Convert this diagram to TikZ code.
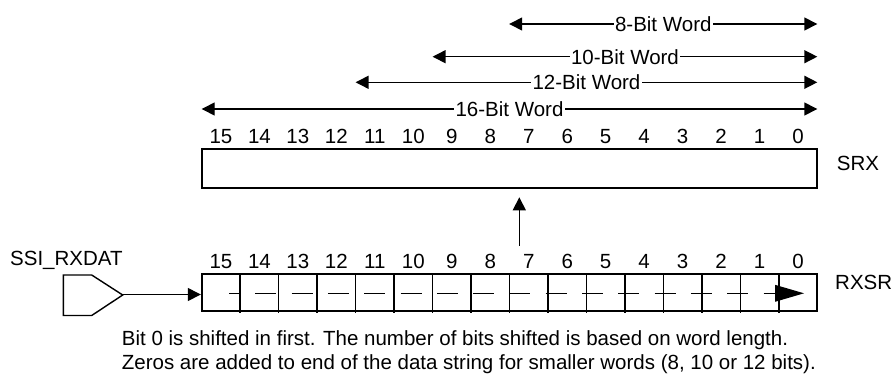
\documentclass[tikz,border=0pt]{standalone}
\usepackage{fontspec}
\setmainfont{Liberation Sans}
\usetikzlibrary{arrows.meta}
\begin{document}
\begin{tikzpicture}[x=1pt,y=-1pt,
  lbl/.style={font=\fontsize{20.5}{24}\selectfont, inner sep=0pt},
  tri/.tip={Triangle[length=13pt,width=13pt]},
  wordarrow/.style={line width=1.4pt, tri-tri},
  wordlabel/.style={lbl, fill=white, inner xsep=1.5pt, inner ysep=2pt},
  onearrow/.style={line width=1.4pt, -tri},
  regbox/.style={draw, line width=1.8pt, inner sep=0pt},
  divider/.style={line width=1.4pt},
  shiftline/.style={line width=1.4pt, dash pattern=on 21pt off 15.3pt, dash phase=10.3pt},
  padshape/.style={line width=1.4pt}]
\useasboundingbox (0,0) rectangle (896,375);

% SRX register
\node[regbox, minimum width=615.6pt, minimum height=38.9pt] (srx) at (509.5,168.25) {};
\foreach \i in {0,...,15}
  \node[lbl, anchor=base] (s\i) at ({817.3-(\i+0.5)*38.475},143.3) {\i};
\node[lbl, anchor=base west] (srxlbl) at (836.7,170) {SRX};

% word-length arrows
\coordinate (w8l) at (509.2,24);   \coordinate (w8r) at (817.3,24);
\coordinate (w10l) at (432.6,56.7); \coordinate (w10r) at (817.3,56.7);
\coordinate (w12l) at (355.6,82.3); \coordinate (w12r) at (817.3,82.3);
\coordinate (w16l) at (201.7,109);  \coordinate (w16r) at (817.3,109);
\draw[wordarrow] (w8l) -- node[wordlabel] (t8) {8-Bit Word} (w8r);
\draw[wordarrow] (w10l) -- node[wordlabel] (t10) {10-Bit Word} (w10r);
\draw[wordarrow] (w12l) -- node[wordlabel] (t12) {12-Bit Word} (w12r);
\draw[wordarrow] (w16l) -- node[wordlabel] (t16) {16-Bit Word} (w16r);

% transfer arrow
\coordinate (upfrom) at (519.3,245.7);
\coordinate (upto) at (519.3,197.3);
\draw[onearrow] (upfrom) -- (upto);

% RXSR register
\node[regbox, minimum width=615.3pt, minimum height=36.7pt] (rxsr) at (509.35,292.35) {};
\foreach \k in {1,...,15}
  \draw[divider] ({201.7+\k*38.475},274) -- ({201.7+\k*38.475},312.7);
\foreach \i in {0,...,15}
  \node[lbl, anchor=base] (r\i) at ({817.3-(\i+0.5)*38.475},268.3) {\i};
\node[lbl, anchor=base west] (rxsrlbl) at (835,289) {RXSR};

% shift path inside RXSR
\draw[shiftline] (229.3,293.3) -- (776,293.3);
\fill (775,284.8) -- (804,293.3) -- (775,301.8) -- cycle;

% input pad
\node[lbl, anchor=base west] (dat) at (10,265) {SSI\_RXDAT};
\draw[padshape] (63.3,275) -- (91.7,275) -- (122.7,295) -- (91.7,315.5) -- (63.3,315.5) -- cycle;
\coordinate (padtip) at (122.7,294.5);
\draw[onearrow] (padtip) -- (rxsr.west |- padtip);

% note
\node[lbl, anchor=base west] (note1) at (121.7,345) {Bit 0 is shifted in first. The number of bits shifted is based on word length.};
\node[lbl, anchor=base west] (note2) at (121.7,369) {Zeros are added to end of the data string for smaller words (8, 10 or 12 bits).};
\end{tikzpicture}
\end{document}
